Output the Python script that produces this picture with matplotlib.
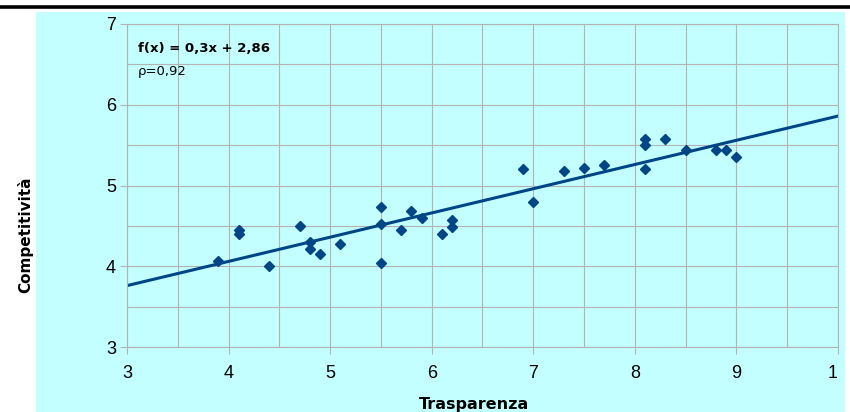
import matplotlib.pyplot as plt
from matplotlib.patches import Rectangle
from matplotlib.lines import Line2D
import numpy as np

# dati
trasparenza = [3.9, 4.1, 4.1, 4.4, 4.7, 4.8, 4.8, 4.9, 5.1, 5.5, 5.5, 5.5,
               5.7, 5.8, 5.9, 6.1, 6.2, 6.2, 6.9, 7.0, 7.3, 7.5, 7.7,
               8.1, 8.1, 8.1, 8.3, 8.5, 8.8, 8.9, 9.0]
competitivita = [4.06, 4.45, 4.40, 4.00, 4.50, 4.30, 4.21, 4.15, 4.28, 4.73, 4.52, 4.04,
                 4.45, 4.69, 4.60, 4.40, 4.57, 4.49, 5.20, 4.79, 5.18, 5.22, 5.25,
                 5.57, 5.50, 5.20, 5.57, 5.44, 5.44, 5.44, 5.35]
pendenza = 0.3
intercetta = 2.86
rho = 0.92
xticks = [3, 4, 5, 6, 7, 8, 9, 10]
xtick_labels = ['3', '4', '5', '6', '7', '8', '9', '10']
yticks = [3, 4, 5, 6, 7]

blu = '#004586'
grigio = '#b3b3b3'

fig = plt.figure(figsize=(8.5, 4.12), dpi=100)
fig.patch.set_facecolor('white')

# sfondo ciano e linea nera in alto
sfondo = Rectangle((36 / 850, 0), (845 - 36) / 850, 1 - 12 / 412,
                   transform=fig.transFigure, facecolor='#c4ffff', edgecolor='none', zorder=-10)
fig.add_artist(sfondo)
fig.add_artist(Line2D([0, 1], [1 - 6.5 / 412, 1 - 6.5 / 412], transform=fig.transFigure,
                      color='black', linewidth=2.6))
# il "10" dell'asse x e' tagliato nell'originale
taglio = Rectangle((0, 0), 837 / 850, 1, transform=fig.transFigure,
                   facecolor='none', edgecolor='none')
fig.add_artist(taglio)

ax = fig.add_axes([127 / 850, 1 - 347 / 412, (838 - 127) / 850, (347 - 24) / 412])
ax.set_facecolor('none')

ax.plot(trasparenza, competitivita, linestyle='none', marker='D', markersize=5,
        color=blu, zorder=3)
xl = np.array([3, 10])
ax.plot(xl, pendenza * xl + intercetta, color=blu, linewidth=2.2, zorder=2)

ax.set_xlim(3, 10)
ax.set_ylim(3, 7)
ax.set_xticks(xticks)
ax.set_xticklabels(xtick_labels)
ax.set_yticks(yticks)
ax.set_xticks(np.arange(3.5, 10, 1), minor=True)
ax.set_yticks(np.arange(3.5, 7, 1), minor=True)
ax.grid(True, which='both', color=grigio, linewidth=0.8)
ax.set_axisbelow(True)
for s in ax.spines.values():
    s.set_color(grigio)
    s.set_linewidth(0.8)
ax.tick_params(which='major', color=grigio, length=5, width=0.8, labelsize=13, pad=8)
ax.tick_params(which='minor', length=0)
ax.tick_params(axis='y', pad=3)

for lbl in ax.get_xticklabels() + ax.get_yticklabels():
    lbl.set_fontfamily('Liberation Sans')
    lbl.set_clip_on(True)
    lbl.set_clip_path(taglio)

fig.text(474 / 850, 1 - 404 / 412, 'Trasparenza', ha='center', va='center',
         fontsize=11.5, fontweight='bold', family='DejaVu Sans')
fig.text(25 / 850, 1 - 235 / 412, 'Competitività', ha='center', va='center',
         rotation=90, fontsize=11, fontweight='bold', family='DejaVu Sans')

ax.text(11 / 711, 1 - 24 / 323, 'f(x) = 0,3x + 2,86', transform=ax.transAxes, fontsize=9.5,
        fontweight='bold', family='DejaVu Sans', va='center')
ax.text(11 / 711, 1 - 48 / 323, 'ρ=0,92', transform=ax.transAxes, fontsize=9.5,
        family='DejaVu Sans', va='center')

plt.savefig('out.png', dpi=100)
